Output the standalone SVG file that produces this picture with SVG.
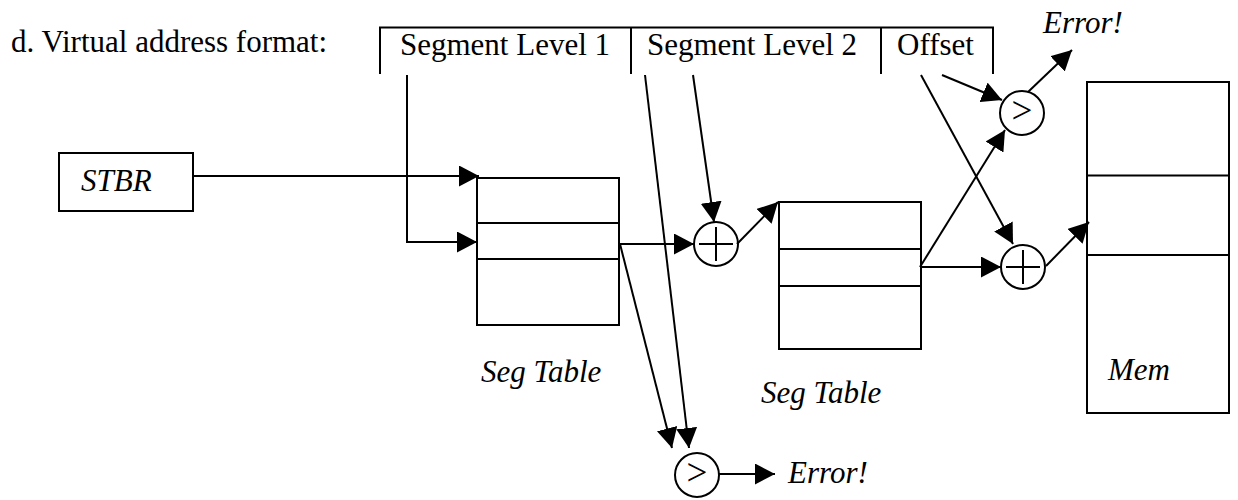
<svg xmlns="http://www.w3.org/2000/svg" width="1238" height="500" viewBox="0 0 1238 500">
<style>
text{font-family:"Liberation Serif","Times New Roman",serif;font-size:31px;fill:#000}
.it{font-style:italic}
.box{fill:#fff;stroke:#000;stroke-width:2}
.ln{fill:none;stroke:#000;stroke-width:2}
.cn{fill:none;stroke:#000;stroke-width:2;marker-end:url(#ah)}
.op{text-anchor:middle;font-size:37px}
</style>
<defs>
<marker id="ah" viewBox="0 0 20 21" refX="20" refY="10.5" markerWidth="20" markerHeight="21" markerUnits="userSpaceOnUse" orient="auto">
<path d="M0,0 L20,10.5 L0,21 z" fill="#000"/>
</marker>
</defs>
<rect width="1238" height="500" fill="#fff"/>
<g id="title"><text x="11" y="52">d. Virtual address format:</text></g>
<g id="address-format">
<path class="ln" d="M380,74 V27.5 H993 V74 M631,27.5 V74 M881,27.5 V74"/>
<text x="400" y="55">Segment Level 1</text>
<text x="647" y="55">Segment Level 2</text>
<text x="897" y="55">Offset</text>
</g>
<g id="stbr"><rect class="box" x="59" y="153" width="134" height="58"/><text class="it" x="81" y="191">STBR</text></g>
<g id="segtable1"><rect class="box" x="477" y="178" width="142" height="147"/><path class="ln" d="M477,223 H619 M477,259 H619"/><text class="it" x="481" y="382">Seg Table</text></g>
<g id="segtable2"><rect class="box" x="779" y="202" width="142" height="147"/><path class="ln" d="M779,249 H921 M779,286 H921"/><text class="it" x="761" y="403">Seg Table</text></g>
<g id="mem"><rect class="box" x="1087" y="82" width="142" height="331"/><path class="ln" d="M1087,175.5 H1229 M1087,255 H1229"/><text class="it" x="1108" y="380">Mem</text></g>
<g id="plus1"><circle class="box" cx="716" cy="244" r="22"/><path class="ln" d="M699,244 H733 M716,227 V261"/></g>
<g id="plus2"><circle class="box" cx="1023" cy="267" r="22"/><path class="ln" d="M1006,267 H1040 M1023,250 V284"/></g>
<g id="cmp-top"><circle class="box" cx="1022" cy="113" r="22"/><text class="op" x="1022" y="123">&gt;</text></g>
<g id="cmp-bottom"><circle class="box" cx="697" cy="475" r="22"/><text class="op" x="697" y="485">&gt;</text></g>
<g id="error-top"><text class="it" x="1043" y="33">Error!</text></g>
<g id="error-bottom"><text class="it" x="788" y="483">Error!</text></g>
<g id="connectors">
<path class="cn" d="M193,176 H479"/>
<path class="cn" d="M407,75 V242 H477"/>
<path class="cn" d="M620,244 H694"/>
<path class="cn" d="M693,75 L714,222"/>
<path class="cn" d="M737,244 L778,202"/>
<path class="cn" d="M620,244 L672,448"/>
<path class="cn" d="M645,75 L689,448"/>
<path class="cn" d="M719,474 H775"/>
<path class="cn" d="M942,75 L1002,100"/>
<path class="cn" d="M920,267 L1005,130"/>
<path class="cn" d="M1028,92 L1072,50"/>
<path class="cn" d="M921,75 L1013,244"/>
<path class="cn" d="M920,267 H1001"/>
<path class="cn" d="M1046,266 L1089,222"/>
</g>
</svg>
